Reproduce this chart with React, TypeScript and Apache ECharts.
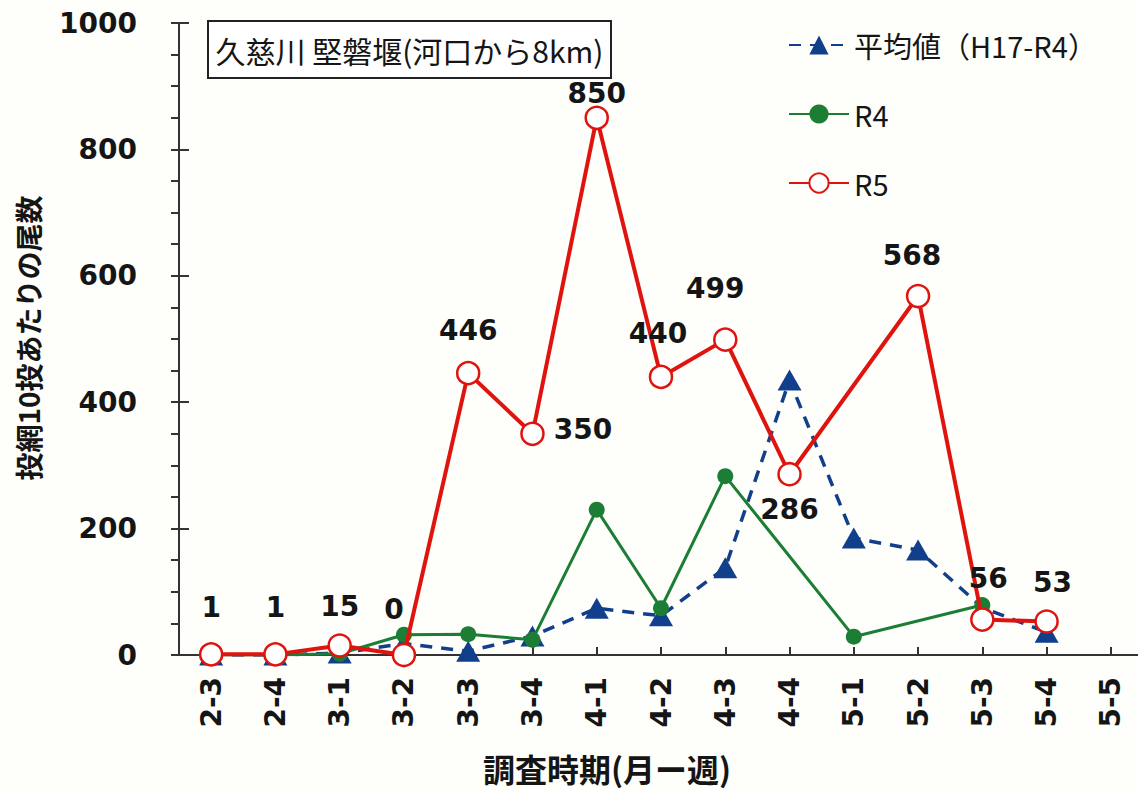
import React, { useEffect, useRef } from 'react';
import * as echarts from 'echarts';

// Survey periods (month-week)
const categories = ['2-3', '2-4', '3-1', '3-2', '3-3', '3-4', '4-1', '4-2', '4-3', '4-4', '5-1', '5-2', '5-3', '5-4', '5-5'];

// Catch per 10 casts of the cast net
const avgH17R4 = [0, 0, 3, 18, 6, 30, 74, 62, 138, 435, 185, 166, 75, 36, null];
const r4 = [0, 0, 2, 32, 33, 24, 230, 74, 283, null, 29, null, 79, null, null];
const r5 = [1, 1, 15, 0, 446, 350, 850, 440, 499, 286, null, 568, 56, 53, null];

const yTicks = { min: 0, max: 1000, interval: 200 };

const seriesNames = ['平均値（H17-R4）', 'R4', 'R5'];
const titleText = '久慈川 堅磐堰(河口から8km)';
const xAxisTitle = '調査時期(月ー週)';
const yAxisTitle = '投網10投あたりの尾数';

// Where each R5 value label sits around its marker
const r5LabelPlacement: { position: string; offset: [number, number] }[] = [
  { position: 'top', offset: [0, -16] },
  { position: 'top', offset: [0, -16] },
  { position: 'top', offset: [0, -8] },
  { position: 'top', offset: [-10, -14] },
  { position: 'top', offset: [0, -11] },
  { position: 'right', offset: [4, -4] },
  { position: 'top', offset: [0, 7] },
  { position: 'top', offset: [-3, -12] },
  { position: 'top', offset: [-10, -20] },
  { position: 'bottom', offset: [0, 4] },
  { position: 'top', offset: [0, 0] },
  { position: 'top', offset: [-6, -9] },
  { position: 'top', offset: [6, -10] },
  { position: 'top', offset: [6, -8] },
  { position: 'top', offset: [0, 0] },
];

const BLUE = '#123f8c';
const GREEN = '#1c7d34';
const RED = '#e0140f';
const INK = '#151515';
const NUM_FONT = 'DejaVu Sans';
const JP_FONT = '"Noto Sans CJK JP", "Noto Sans", sans-serif';

function buildOption() {
  return {
    animation: false,
    backgroundColor: '#fefefb',
    grid: { left: 179, right: 7, top: 23, bottom: 135, containLabel: false },
    legend: {
      orient: 'vertical',
      left: 783,
      top: 25,
      itemWidth: 60,
      itemHeight: 24,
      itemGap: 39,
      data: seriesNames,
      textStyle: { fontFamily: JP_FONT, fontSize: 29, color: INK, lineHeight: 30 },
    },
    xAxis: {
      type: 'category',
      data: categories,
      boundaryGap: true,
      axisLine: { show: true, lineStyle: { color: '#333', width: 2 } },
      axisTick: { show: true, inside: true, alignWithLabel: true, length: 8, lineStyle: { color: '#333', width: 2 } },
      axisLabel: {
        rotate: 90,
        margin: 22,
        interval: 0,
        fontFamily: NUM_FONT,
        fontWeight: 'bold',
        fontSize: 28,
        color: INK,
      },
      splitLine: { show: false },
    },
    yAxis: [
      {
        type: 'value',
        ...yTicks,
        axisLine: { show: true, lineStyle: { color: '#333', width: 2 } },
        axisTick: { show: true, inside: false, length: 8, lineStyle: { color: '#333', width: 2 } },
        minorTick: { show: true, splitNumber: 4, length: 8, lineStyle: { color: '#333', width: 2 } },
        axisLabel: {
          margin: 42,
          fontFamily: NUM_FONT,
          fontWeight: 'bold',
          fontSize: 28,
          color: INK,
          formatter: (v: number) => String(v),
        },
        splitLine: { show: false },
      },
      {
        type: 'value',
        ...yTicks,
        position: 'left',
        offset: 0,
        axisLine: { show: false },
        axisTick: { show: true, inside: true, length: 10, lineStyle: { color: '#333', width: 2 } },
        axisLabel: { show: false },
        splitLine: { show: false },
      },
    ],
    graphic: [
      {
        type: 'group',
        left: 207,
        top: 20,
        children: [
          {
            type: 'rect',
            shape: { x: 0, y: 0, width: 403, height: 57 },
            style: { fill: '#ffffff', stroke: '#222', lineWidth: 2 },
          },
          {
            type: 'text',
            x: 201.5,
            y: 29,
            style: {
              text: titleText,
              fontFamily: JP_FONT,
              fontSize: 30,
              fill: INK,
              textAlign: 'center',
              textVerticalAlign: 'middle',
            },
          },
        ],
      },
      {
        type: 'text',
        x: 607,
        y: 768,
        style: {
          text: xAxisTitle,
          fontFamily: JP_FONT,
          fontWeight: 'bold',
          fontSize: 32,
          fill: INK,
          textAlign: 'center',
          textVerticalAlign: 'middle',
        },
      },
      {
        type: 'text',
        x: 28,
        y: 338,
        rotation: Math.PI / 2,
        style: {
          text: yAxisTitle,
          fontFamily: JP_FONT,
          fontWeight: 'bold',
          fontSize: 28,
          fill: INK,
          textAlign: 'center',
          textVerticalAlign: 'middle',
        },
      },
    ],
    series: [
      {
        name: seriesNames[0],
        type: 'line',
        data: avgH17R4,
        connectNulls: true,
        symbol: 'triangle',
        symbolSize: [24, 21],
        itemStyle: { color: BLUE },
        lineStyle: { color: BLUE, width: 3.5, type: [12, 9] },
        z: 2,
      },
      {
        name: seriesNames[1],
        type: 'line',
        data: r4,
        connectNulls: true,
        symbol: 'circle',
        symbolSize: 16,
        itemStyle: { color: GREEN },
        lineStyle: { color: GREEN, width: 3 },
        z: 3,
      },
      {
        name: seriesNames[2],
        type: 'line',
        data: r5.map((v, i) =>
          v == null
            ? null
            : {
                value: v,
                label: { position: r5LabelPlacement[i].position, offset: r5LabelPlacement[i].offset },
              }
        ),
        connectNulls: true,
        symbol: 'circle',
        symbolSize: 22,
        itemStyle: { color: '#ffffff', borderColor: RED, borderWidth: 2.5 },
        lineStyle: { color: RED, width: 4 },
        label: {
          show: true,
          distance: 5,
          fontFamily: NUM_FONT,
          fontWeight: 'bold',
          fontSize: 28,
          color: INK,
        },
        z: 4,
      },
    ],
  };
}

export default function App() {
  const ref = useRef<HTMLDivElement>(null);
  useEffect(() => {
    if (!ref.current) return;
    const chart = echarts.init(ref.current, null, { renderer: 'svg' });
    chart.setOption(buildOption() as any);
    return () => chart.dispose();
  }, []);
  return (
    <div
      ref={ref}
      style={{ position: 'fixed', left: 0, top: 0, width: 1150, height: 790, background: '#fefefb' }}
    />
  );
}
